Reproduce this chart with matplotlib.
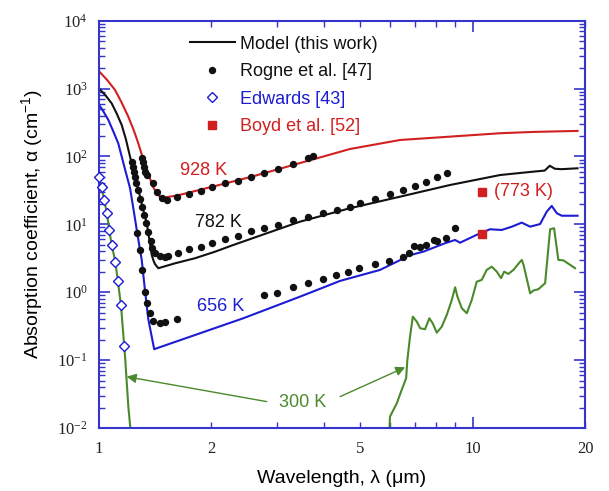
import matplotlib
matplotlib.use('Agg')
import matplotlib.pyplot as plt
from matplotlib.ticker import FixedLocator, FuncFormatter, LogFormatterSciNotation, NullFormatter
from matplotlib.lines import Line2D

plt.rcParams['font.family'] = ['Liberation Sans', 'DejaVu Sans']

# ---------------- data ----------------
# Model (this work), 928 K
red_model_lam = [1.000, 1.05, 1.104, 1.15, 1.198, 1.24, 1.274, 1.31, 1.355, 1.39, 1.427,
                 1.466, 1.614, 2.00, 2.55, 3.452, 4.70, 6.40, 8.70, 11.85, 14.5, 19.1]
red_model_alpha = [1800, 1350, 953, 620, 385, 240, 156, 95, 56.6, 37, 28.7,
                   24.5, 26.5, 35.6, 50, 80, 129, 175, 196, 220, 230, 238]

# Model, 782 K
blk_model_lam = [1.000, 1.04, 1.081, 1.115, 1.150, 1.18, 1.211, 1.235, 1.26, 1.288, 1.315,
                 1.342, 1.369, 1.384, 1.40, 1.412, 1.441, 1.598, 1.807, 2.045, 2.289,
                 2.812, 3.452, 4.70, 6.40, 8.70, 11.85, 14.5, 15.6, 16.1, 16.6, 17.3, 19.1]
blk_model_alpha = [1000, 800, 607, 430, 291, 180, 99, 63, 40, 25.6, 16,
                   10.4, 5.27, 3.54, 2.9, 2.6, 2.26, 2.67, 3.17, 3.96, 4.97,
                   7.39, 10.96, 17.3, 25.6, 38, 53.3, 59.7, 62, 73, 66, 65, 67]

# Model, 656 K
blu_model_lam = [1.000, 1.03, 1.059, 1.09, 1.126, 1.150, 1.18, 1.211, 1.236, 1.261, 1.281,
                 1.301, 1.328, 1.355, 1.405,
                 2.434, 3.452, 4.42, 5.65, 6.65, 6.75, 6.85, 7.38, 8.44, 8.98, 9.26, 10.47,
                 11.14, 11.97, 12.74, 13.54, 14.26, 15.16, 15.80, 16.29, 16.81, 17.33, 19.1]
blu_model_alpha = [580, 450, 345, 240, 156, 100, 58, 34, 17, 8.5, 5.0,
                   3.0, 1.05, 0.40, 0.145,
                   0.414, 0.861, 1.47, 2.13, 3.3, 3.7, 3.55, 3.96, 5.27, 5.89, 5.37, 7.39,
                   8.47, 8.27, 9.25, 10.6, 9.25, 10.1, 15.4, 18.7, 14.6, 13.4, 13.4]

# Rogne et al. [47]
rog928_lam = [1.301, 1.314, 1.322, 1.327, 1.341, 1.397, 1.427, 1.472, 1.518, 1.614, 1.745,
              1.876, 2.003, 2.174, 2.356, 2.553, 2.765, 3.015, 3.307, 3.627, 3.741]
rog928_alpha = [94, 84, 71, 60, 53, 40, 30, 24.2, 22.9, 25.6, 28,
                31.4, 35.9, 40.7, 43.6, 49.9, 57, 65, 77, 95, 102]

rog782_lam = [1.224, 1.235, 1.243, 1.248, 1.256, 1.269, 1.288, 1.301, 1.322, 1.336, 1.355,
              1.378, 1.389, 1.412, 1.457, 1.502, 1.533, 1.631, 1.745, 1.876, 2.003, 2.175,
              2.352, 2.553, 2.771, 3.008, 3.301, 3.634, 3.986, 4.329, 4.70, 5.00, 5.48,
              6.01, 6.53, 7.02, 7.51, 8.02, 8.53]
rog782_alpha = [84, 71, 60, 50, 40, 32, 24, 18, 13.7, 10.4, 7.8,
                5.6, 4.45, 3.75, 3.43, 3.36, 3.43, 3.83, 4.30, 4.70, 5.37, 6.10,
                6.82, 7.91, 8.77, 9.80, 11.6, 13.0, 14.9, 16.3, 18.2, 20.9, 23.7,
                28.0, 32.1, 37.2, 41.7, 49.4, 57.7]

rog656_lam = [1.261, 1.288, 1.303, 1.324, 1.347, 1.369, 1.399, 1.452, 1.505, 1.618,
              2.771, 2.987, 3.301, 3.634, 3.986, 4.311, 4.65, 4.97, 5.48, 5.99, 6.50,
              6.77, 6.99, 7.24, 7.51, 7.90, 8.02, 8.49, 8.98]
rog656_alpha = [7.47, 4.20, 2.13, 1.01, 0.69, 0.50, 0.38, 0.35, 0.36, 0.40,
                0.91, 0.99, 1.20, 1.36, 1.55, 1.80, 1.98, 2.26, 2.58, 2.92, 3.34,
                3.83, 4.81, 4.60, 4.97, 5.89, 5.70, 6.24, 8.70]

# Edwards [43], 300 K
edw_lam = [1.000, 1.0155, 1.0325, 1.049, 1.065, 1.081, 1.106, 1.123, 1.145, 1.168]
edw_alpha = [50.4, 35.6, 22.9, 14.9, 8.27, 4.97, 2.82, 1.47, 0.644, 0.162]

# 300 K curve (green)
g300a_lam = [1.000, 1.0155, 1.0325, 1.049, 1.065, 1.081, 1.106, 1.123, 1.145, 1.168,
             1.174, 1.198, 1.214]
g300a_alpha = [50, 35.6, 22.9, 14.9, 8.3, 5.0, 2.8, 1.47, 0.64, 0.162,
               0.113, 0.0207, 0.0095]
g300b_lam = [5.99, 6.01, 6.27, 6.46, 6.64, 6.69, 6.80, 6.92, 7.09, 7.24, 7.46, 7.66, 7.82,
             8.02, 8.27, 8.53, 8.80, 8.98, 9.11, 9.36, 9.65, 9.95, 10.26, 10.58, 10.91,
             11.26, 11.61, 11.92, 12.15, 12.47, 12.86, 13.41, 13.55, 13.70, 14.26, 14.55,
             15.01, 15.64, 16.13, 16.53, 16.97, 17.51, 18.81]
g300b_alpha = [0.0095, 0.0147, 0.0232, 0.0364, 0.054, 0.10, 0.22, 0.437, 0.369, 0.295,
               0.285, 0.414, 0.349, 0.254, 0.311, 0.463, 0.771, 1.185, 0.861, 0.581,
               0.491, 0.771, 1.43, 1.52, 2.13, 2.38, 2.01, 1.61, 2.01, 1.86, 2.13, 2.82,
               2.99, 2.5, 0.966, 1.06, 1.11, 1.36, 8.47, 8.77, 2.99, 2.95, 2.26]

# Boyd et al. [52], 773 K
boyd_lam = [10.58, 10.58]
boyd_alpha = [30.3, 7.14]

# axis ticks
y_major = [1e-2, 1e-1, 1e0, 1e1, 1e2, 1e3, 1e4]
x_major = [1, 10]
x_minor = [2, 3, 4, 5, 6, 7, 8, 9, 20]
x_minor_labeled = [2, 5, 20]

# ---------------- style ----------------
RED = '#d21f1f'
BLACK = '#111111'
BLUE = '#1c1cd2'
GREEN = '#4b8a2c'
FRAME = '#3535cc'

fig = plt.figure(figsize=(6.09, 4.91), dpi=100)
ax = fig.add_axes([0.1626, 0.1283, 0.798, 0.8295])
ax.set_xscale('log')
ax.set_yscale('log')
ax.set_xlim(1, 20)
ax.set_ylim(1e-2, 1e4)

lw = 1.5
ax.plot(g300a_lam, g300a_alpha, color=GREEN, lw=lw, zorder=2)
ax.plot(g300b_lam, g300b_alpha, color=GREEN, lw=lw, zorder=2)
ax.plot(red_model_lam, red_model_alpha, color=RED, lw=lw, zorder=2)
ax.plot(blu_model_lam, blu_model_alpha, color=BLUE, lw=lw, zorder=2)
ax.plot(blk_model_lam, blk_model_alpha, color=BLACK, lw=lw, zorder=2)

ms_dot = 4.3
ax.plot(rog928_lam, rog928_alpha, 'o', color=BLACK, ms=ms_dot, zorder=3)
ax.plot(rog782_lam, rog782_alpha, 'o', color=BLACK, ms=ms_dot, zorder=3)
ax.plot(rog656_lam, rog656_alpha, 'o', color=BLACK, ms=ms_dot, zorder=3)
ax.plot(edw_lam, edw_alpha, 'D', mfc='white', mec=BLUE, mew=1.0, ms=5.3, zorder=4,
        clip_on=False)
ax.plot(boyd_lam, boyd_alpha, 's', color=RED, ms=6, zorder=4)

# legend
handles = [Line2D([], [], color=BLACK, lw=lw),
           Line2D([], [], ls='none', marker='o', color=BLACK, ms=ms_dot),
           Line2D([], [], ls='none', marker='D', mfc='white', mec=BLUE, mew=1.0, ms=5.3),
           Line2D([], [], ls='none', marker='s', color=RED, ms=6)]
labels = ['Model (this work)', 'Rogne et al. [47]', 'Edwards [43]', 'Boyd et al. [52]']
leg = ax.legend(handles, labels, loc='upper left', bbox_to_anchor=(0.187, 0.963),
                frameon=False, fontsize=13, handlelength=2.5, handletextpad=0.3,
                labelspacing=0.58, borderpad=0, borderaxespad=0)
for t, c in zip(leg.get_texts(), [BLACK, BLACK, BLUE, RED]):
    t.set_color(c)

# annotations
ax.text(1.91, 63, '928 K', color=RED, fontsize=13, ha='center', va='center')
ax.text(2.083, 10.6, '782 K', color=BLACK, fontsize=13, ha='center', va='center')
ax.text(2.11, 0.62, '656 K', color=BLUE, fontsize=13, ha='center', va='center')
ax.text(11.38, 30.3, '(773 K)', color=RED, fontsize=13, ha='left', va='center')
ax.text(3.50, 0.0238, '300 K', color=GREEN, fontsize=13, ha='center', va='center')
arrow = dict(arrowstyle='-|>', color=GREEN, lw=1.0, mutation_scale=14, shrinkA=0, shrinkB=0)
ax.annotate('', xy=(1.186, 0.057), xytext=(2.81, 0.0245), arrowprops=arrow)
ax.annotate('', xy=(6.60, 0.0785), xytext=(4.42, 0.029), arrowprops=arrow)

# axes styling
for s in ax.spines.values():
    s.set_color(FRAME)
    s.set_linewidth(1.5)

y_minor = [m * d for d in y_major[:-1] for m in range(2, 10)]
ax.xaxis.set_major_locator(FixedLocator(x_major))
ax.xaxis.set_minor_locator(FixedLocator(x_minor))
ax.xaxis.set_major_formatter(FuncFormatter(lambda v, p: '%d' % round(v)))
ax.xaxis.set_minor_formatter(FuncFormatter(
    lambda v, p: '%d' % round(v) if round(v) in x_minor_labeled else ''))
ax.yaxis.set_major_locator(FixedLocator(y_major))
ax.yaxis.set_minor_locator(FixedLocator(y_minor))
ax.yaxis.set_major_formatter(LogFormatterSciNotation())
ax.yaxis.set_minor_formatter(NullFormatter())

ax.tick_params(which='both', direction='in', top=True, right=True, color=FRAME,
               labelsize=12, labelfontfamily='Liberation Serif', labelcolor='#222222')
ax.tick_params(which='major', length=8, width=1.2)
ax.tick_params(which='minor', length=4, width=1.0)
ax.tick_params(axis='x', which='both', pad=9)
ax.tick_params(axis='y', which='both', pad=8)

ax.set_xlabel('Wavelength, λ (μm)', fontsize=14, labelpad=10)
ax.set_ylabel('Absorption coefficient, α (cm$^{\\mathdefault{-1}}$)', fontsize=14, labelpad=8)

fig.savefig('out.png', dpi=100)
